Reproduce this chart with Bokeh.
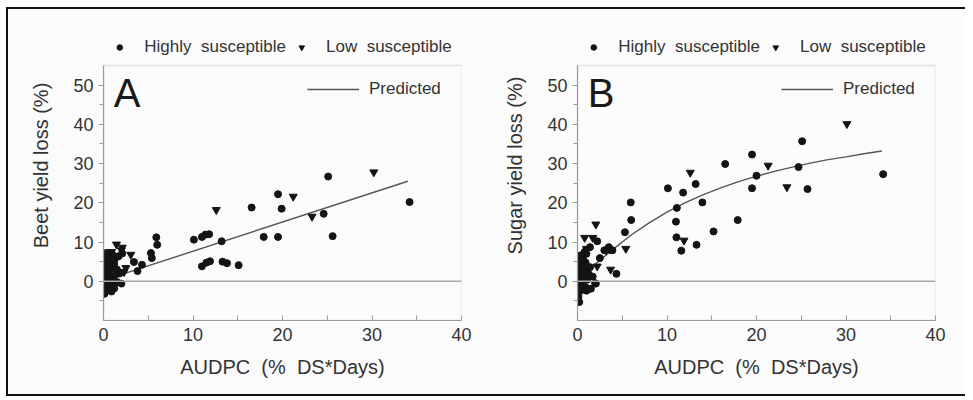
from bokeh.plotting import figure
from bokeh.layouts import row
from bokeh.models import Range1d, FixedTicker, Span, Legend, LegendItem, Label, BoxAnnotation
from bokeh.embed import file_html
from bokeh.resources import INLINE

# ---------------- data ----------------
# Panel A: beet yield loss
a_high_x = [25.1, 34.2, 19.5, 19.9, 16.55, 24.6, 25.6, 17.9, 19.5, 13.2, 10.1, 11.0, 11.4, 11.8,
            11.0, 11.5, 11.9, 13.3, 13.8, 15.1,
            5.9, 6.0, 5.3, 5.4, 2.1, 3.4, 4.3, 3.8, 2.0,
            0.1, 0.3, 0.1, 0.5, 0.2, 0.8, 1.2, 0.4, 0.1, 0.7, 1.0, 1.4, 0.3, 0.6, 0.2, 1.0, 1.5,
            0.4, 0.8, 0.1, 1.3, 0.6, 1.0, 1.7, 0.3, 1.5, 1.8, 0.9, 0.2, 1.2]
a_high_y = [26.7, 20.2, 22.2, 18.5, 18.8, 17.2, 11.5, 11.3, 11.3, 10.2, 10.6, 11.3, 11.9, 12.0,
            3.8, 4.75, 5.1, 5.0, 4.6, 4.1,
            11.2, 9.3, 7.2, 5.9, 7.1, 4.9, 4.2, 2.6, -0.6,
            -3.2, -2.4, -1.5, -1.0, -0.2, -0.5, -1.8, 0.6, 1.2, 1.5, 0.8, 1.8, 2.3, 3.0, 3.8, 3.4, 3.0,
            4.6, 5.2, 5.6, 5.8, 6.4, 6.8, 6.4, 7.2, -0.2, 2.0, -2.6, -0.9, 4.4]
a_low_x = [30.2, 21.2, 12.6, 23.3, 1.45, 2.1, 2.0, 3.05, 2.5, 2.3, 0.9, 0.6]
a_low_y = [27.8, 21.6, 18.2, 16.5, 9.4, 8.6, 7.9, 6.8, 3.4, 2.4, 7.5, 2.0]
a_pred_x = [0.5, 34.0]
a_pred_y = [0.6, 25.5]

# Panel B: sugar yield loss
b_high_x = [25.1, 34.15, 24.7, 25.7, 19.5, 20.0, 19.5, 16.5, 17.9, 15.2, 13.95, 13.2, 11.8, 10.1,
            11.1, 11.0, 11.05, 11.6, 13.3, 5.95, 6.0, 5.3, 2.2, 3.5, 3.7, 2.5, 4.35, 1.97, 1.0,
            0.8, 1.4, 3.0, 3.9, 1.5, 2.05,
            0.2, 0.1, 0.3, 0.1, 0.5, 0.9, 0.3, 0.7, 0.1, 1.1, 0.4, 0.8, 0.2, 1.2, 0.5, 0.9, 0.2,
            1.4, 0.6, 1.7, 0.4, 1.0, 0.3]
b_high_y = [35.7, 27.3, 29.1, 23.5, 32.3, 26.9, 23.7, 29.9, 15.6, 12.7, 20.1, 24.8, 22.6, 23.7,
            18.7, 15.2, 11.2, 7.8, 9.3, 20.1, 15.6, 12.5, 10.2, 8.7, 8.0, 5.9, 1.9, -0.5, 7.0,
            7.5, 8.7, 7.9, 7.9, -1.9, -0.6,
            -5.3, -4.0, -2.5, -1.2, -0.6, -1.5, 0.3, 0.9, 1.6, 0.4, 2.4, 2.9, 3.5, 2.0, 4.2, 4.8, 5.2,
            3.6, 5.9, 1.2, -1.8, -2.4, 6.6]
b_low_x = [30.1, 21.3, 23.4, 12.6, 11.9, 5.4, 2.05, 0.8, 1.7, 1.0, 3.2, 3.7, 2.2, 0.6]
b_low_y = [40.1, 29.5, 24.0, 27.7, 10.4, 8.3, 14.5, 11.1, 11.1, 8.3, 7.9, 3.0, 3.8, 2.5]
b_pred_x = [0.5, 2, 4, 6, 8, 10, 12, 14, 16, 18, 20, 22, 24, 26, 28, 30, 32, 34]
b_pred_y = [1.2, 4.4, 8.2, 11.8, 14.9, 17.6, 20.0, 22.0, 23.8, 25.4, 26.8, 28.0, 29.1, 30.1,
            31.0, 31.7, 32.5, 33.2]

x_major = [0, 10, 20, 30, 40]
x_minor = [5, 15, 25, 35]
y_major = [0, 10, 20, 30, 40, 50]
y_minor = [-5, 5, 15, 25, 35, 45]

FONT = "Liberation Sans"
TXT = "#333333"
AXC = "#9a9a9a"
BG = "#fbfbfb"
SP = "\u00a0 "

X_LO, X_HI = 0, 40
Y_LO, Y_HI = -10, 55
Y_TOP = 69.02   # extra room above the data box for the marker key


def make_panel(letter, ylabel, hx, hy, lx, ly, px, py, width, left, right):
    p = figure(width=width, height=385, x_range=Range1d(X_LO, X_HI), y_range=Range1d(Y_LO, Y_TOP),
               output_backend="svg", toolbar_location=None,
               min_border_left=left, min_border_right=right, min_border_top=1, min_border_bottom=74)
    p.background_fill_color = BG
    p.border_fill_color = BG
    p.outline_line_color = None
    p.xgrid.visible = False
    p.ygrid.visible = False

    p.add_layout(BoxAnnotation(left=X_LO, right=X_HI, bottom=Y_LO, top=Y_HI, fill_alpha=0,
                               line_color="#a8a8a8", line_width=1.3))
    p.add_layout(Span(location=0, dimension="width", line_color="#aaaaaa", line_width=1.6))

    r_line = p.line(px, py, line_color="#555555", line_width=1.4)
    r_high = p.scatter(hx, hy, marker="circle", size=7, color="#141414")
    r_low = p.scatter(lx, ly, marker="inverted_triangle", size=8, color="#141414")

    for ax in (p.xaxis[0], p.yaxis[0]):
        ax.axis_line_color = AXC
        ax.axis_line_width = 1.2
        ax.major_tick_line_color = AXC
        ax.minor_tick_line_color = AXC
        ax.major_label_text_font = FONT
        ax.major_label_text_font_size = "18px"
        ax.major_label_text_color = TXT
        ax.axis_label_text_font = FONT
        ax.axis_label_text_font_size = "20px"
        ax.axis_label_text_font_style = "normal"
        ax.axis_label_text_color = TXT

    p.xaxis.ticker = FixedTicker(ticks=x_major, minor_ticks=x_minor)
    p.xaxis.major_tick_in = 5
    p.xaxis.major_tick_out = 0
    p.xaxis.minor_tick_in = 5
    p.xaxis.minor_tick_out = 0
    p.xaxis.major_label_standoff = 7
    p.xaxis.axis_label = "AUDPC" + SP + "(%" + SP + "DS*Days)"
    p.xaxis.axis_label_standoff = 12

    p.yaxis.ticker = FixedTicker(ticks=y_major, minor_ticks=y_minor)
    p.yaxis.bounds = (Y_LO, Y_HI)
    p.yaxis.major_tick_in = 0
    p.yaxis.major_tick_out = 5
    p.yaxis.minor_tick_in = 0
    p.yaxis.minor_tick_out = 4
    p.yaxis.major_label_standoff = 5
    p.yaxis.axis_label = ylabel
    p.yaxis.axis_label_standoff = 18

    top_leg = Legend(items=[LegendItem(label="Highly" + SP + "susceptible", renderers=[r_high]),
                            LegendItem(label="Low" + SP + "susceptible", renderers=[r_low])],
                     orientation="horizontal", location="top_center",
                     border_line_color=None, background_fill_alpha=0,
                     label_text_font=FONT, label_text_font_size="17px", label_text_color=TXT,
                     glyph_width=14, glyph_height=14, label_standoff=18, spacing=8,
                     padding=0, margin=27)
    p.add_layout(top_leg)

    pred_leg = Legend(items=[LegendItem(label="Predicted", renderers=[r_line])],
                      location=(204, 221), border_line_color=None, background_fill_alpha=0,
                      label_text_font=FONT, label_text_font_size="17px", label_text_color=TXT,
                      glyph_width=52, label_standoff=10, padding=0, margin=0)
    p.add_layout(pred_leg)

    p.add_layout(Label(x=1.15, y=47.9, text=letter, text_font=FONT, text_font_size="40px",
                       text_color="#1a1a1a", text_baseline="alphabetic"))
    return p


pa = make_panel("A", "Beet yield loss (%)", a_high_x, a_high_y, a_low_x, a_low_y,
                a_pred_x, a_pred_y, 478, 95, 25)
pb = make_panel("B", "Sugar yield loss (%)", b_high_x, b_high_y, b_low_x, b_low_y,
                b_pred_x, b_pred_y, 479, 91, 30)

layout = row(pa, pb, styles={"border-left": "2px solid #111", "border-top": "2px solid #111",
                              "border-bottom": "2px solid #111",
                              "margin-left": "6px", "margin-top": "7px"})

open("out.html", "w").write(file_html(layout, INLINE))
